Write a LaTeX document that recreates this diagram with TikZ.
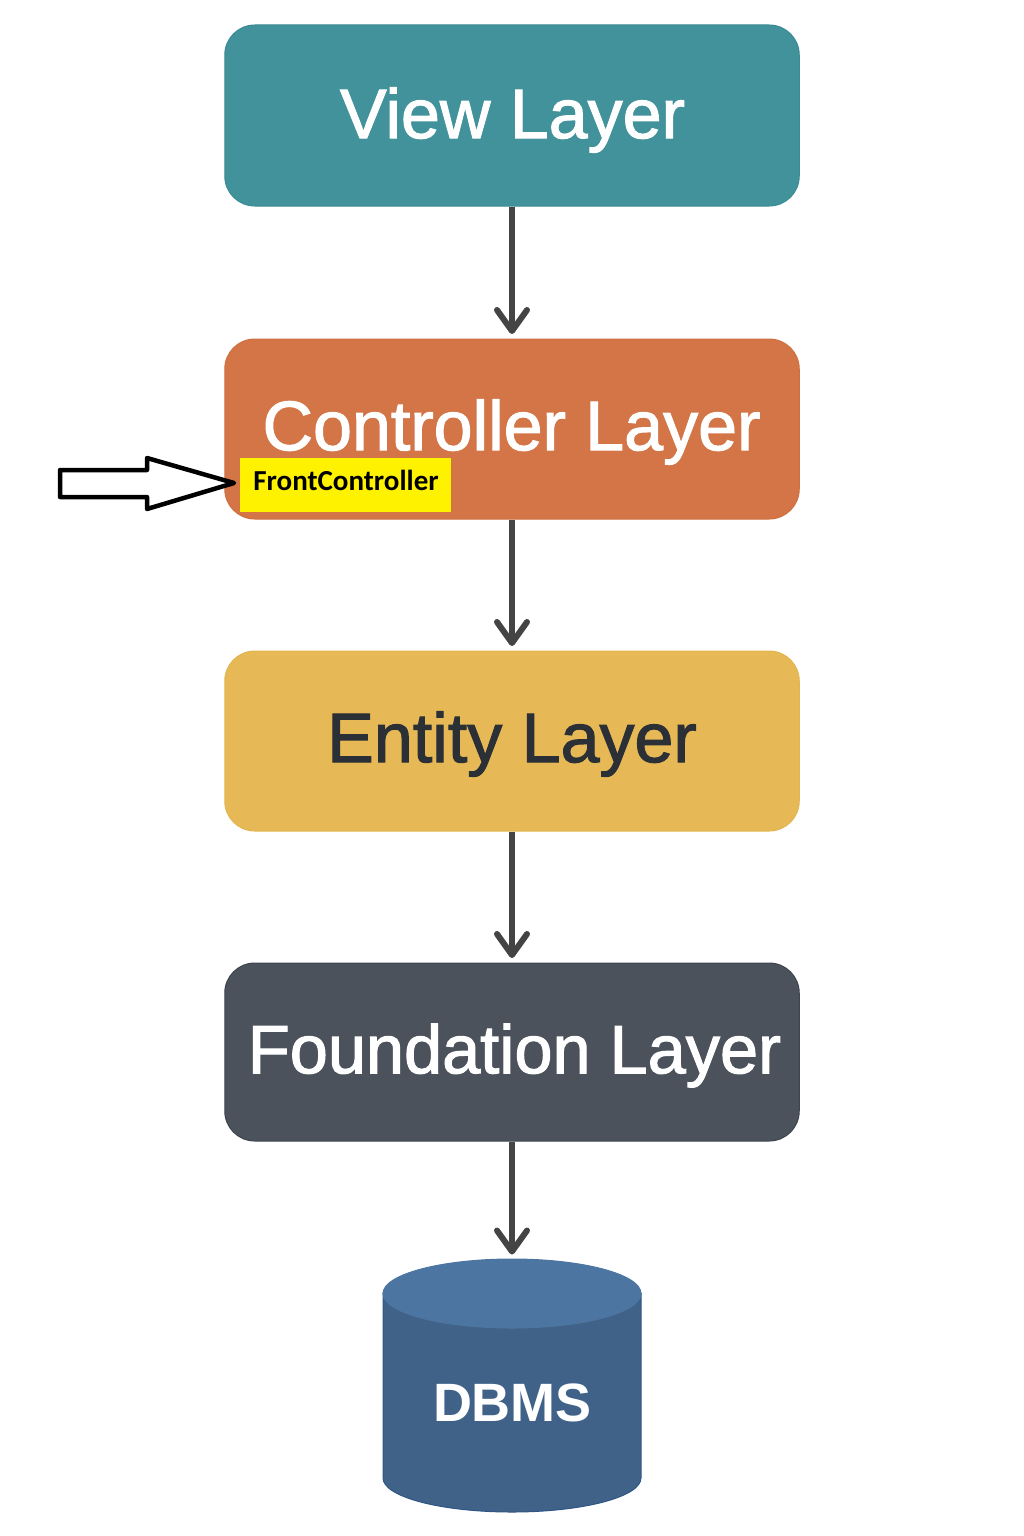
\documentclass[tikz,border=0pt]{standalone}
\usepackage{fontspec}
\setmainfont[FakeBold=1.6]{Liberation Sans}
\newfontfamily\dbfont{Liberation Sans}
\newfontfamily\notefont{Carlito}
\usetikzlibrary{arrows.meta}
\definecolor{viewc}{HTML}{42929C}
\definecolor{viewb}{HTML}{3A8B95}
\definecolor{ctrlc}{HTML}{D37547}
\definecolor{ctrlb}{HTML}{CF7040}
\definecolor{entc}{HTML}{E6B956}
\definecolor{entb}{HTML}{E2B54F}
\definecolor{founc}{HTML}{4C525C}
\definecolor{founb}{HTML}{3F454F}
\definecolor{dbbody}{HTML}{406288}
\definecolor{dbtopc}{HTML}{4C75A1}
\definecolor{dbedge}{HTML}{2F5686}
\definecolor{linkc}{HTML}{444444}
\definecolor{darktext}{HTML}{2B2F36}
\definecolor{notec}{HTML}{FFF200}
\tikzset{
  layer/.style={draw, line width=1pt, rounded corners=30pt, minimum width=574.5pt, inner sep=0pt, text=white},
  layerfont/.style={font=\fontsize{#1}{#1}\selectfont},
  link/.style={draw=linkc, line width=5.5pt, shorten >=4.5pt, -{Straight Barb[length=21pt,width=30pt,line width=6pt,round]}},
  notebox/.style={fill=notec, inner sep=0pt, minimum width=211pt, minimum height=54pt, text=black},
  notelabel/.style={font=\notefont\bfseries\fontsize{29}{29}\selectfont, text=black},
  blockarrow/.style={draw=black, fill=white, line width=4.5pt, line join=round},
  dbshape/.style={line width=1pt, draw=dbedge}
}
\begin{document}
\begin{tikzpicture}[x=1pt,y=-1pt]
\useasboundingbox (0,0) rectangle (1024,1536);
\node[layer, fill=viewc, draw=viewb, minimum height=181pt] (view) at (512,115.5) {};
\node[layerfont=70, text=white] (viewtext) at (512.5,120) {View Layer};
\node[layer, fill=ctrlc, draw=ctrlb, minimum height=180pt] (ctrl) at (512,429) {};
\node[layerfont=70, text=white] (ctrltext) at (511.5,432) {Controller Layer};
\node[layer, fill=entc, draw=entb, minimum height=180pt] (ent) at (512,741) {};
\node[layerfont=70, text=darktext] (enttext) at (512,744) {Entity Layer};
\node[layer, fill=founc, draw=founb, minimum height=178pt] (foun) at (512,1052) {};
\node[layerfont=68.5, text=white] (footext) at (514.5,1055.5) {Foundation Layer};
\path[dbshape, fill=dbbody] (383,1293) -- (383,1478) arc[start angle=180, end angle=360, x radius=129, y radius=-34] -- (641,1293) -- cycle;
\path[dbshape, draw=dbtopc, fill=dbtopc] (512,1293.5) ellipse[x radius=129, y radius=34.5];
\coordinate (dbtop) at (512,1259);
\node[font=\dbfont\bfseries\fontsize{54}{54}\selectfont, text=white] (db) at (512.5,1403) {DBMS};
\draw[link] (view.south) -- (ctrl.north);
\draw[link] (ctrl.south) -- (ent.north);
\draw[link] (ent.south) -- (foun.north);
\draw[link] (foun.south) -- (dbtop);
\node[notebox] (note) at (345.5,485) {};
\node[notelabel] (notetext) at (346,480.5) {FrontController};
\draw[blockarrow] (60,470) -- (147,470) -- (147,458) -- (234,483) -- (147,509) -- (147,497) -- (60,497) -- cycle;
\end{tikzpicture}
\end{document}
